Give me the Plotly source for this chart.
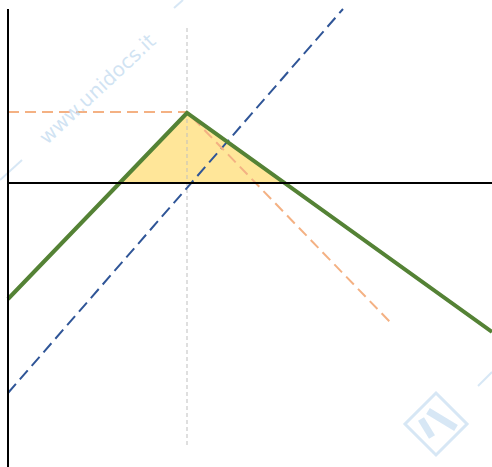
import plotly.graph_objects as go

# Data (chart units: x = underlying, y = payoff)
strike = 179
green_x = [0, 179, 484]
green_y = [-116, 70, -149]
blue_x = [0, 335]
blue_y = [-210, 174]
orange_x = [0, 179, 383]
orange_y = [71, 71, -140]
profit_x = [111.6, 179, 276]
profit_y = [0, 70, 0]

W, H = 492, 467

fig = go.Figure()

fig.add_trace(go.Scatter(x=profit_x, y=profit_y, fill="toself", mode="lines",
                         fillcolor="#FFE699", line=dict(color="black", width=1),
                         hoverinfo="skip", showlegend=False))
fig.add_trace(go.Scatter(x=[strike, strike], y=[155, -263], mode="lines",
                         line=dict(color="#BFBFBF", width=1, dash="4px,3px"),
                         showlegend=False))
fig.add_trace(go.Scatter(x=blue_x, y=blue_y, mode="lines",
                         line=dict(color="#2F5597", width=2, dash="12px,6px"),
                         showlegend=False))
fig.add_trace(go.Scatter(x=orange_x, y=orange_y, mode="lines",
                         line=dict(color="#F4B183", width=2, dash="11px,6px"),
                         showlegend=False))
fig.add_trace(go.Scatter(x=green_x, y=green_y, mode="lines",
                         line=dict(color="#548235", width=4),
                         showlegend=False))

shapes = [
    dict(type="line", xref="x", yref="y", x0=0, y0=174, x1=0, y1=-290,
         line=dict(color="black", width=2)),
    dict(type="line", xref="x", yref="y", x0=0, y0=0, x1=490, y1=0,
         line=dict(color="black", width=2)),
]

WM = "rgba(189,215,238,0.6)"
def px(x):
    return x / W
def py(y):
    return 1 - y / H
def seg(x0, y0, x1, y1, w=2):
    return dict(type="line", xref="paper", yref="paper",
                x0=px(x0), y0=py(y0), x1=px(x1), y1=py(y1),
                line=dict(color=WM, width=w), layer="below")
shapes += [seg(174, 8, 183, 0), seg(0, 180, 22, 160), seg(478, 386, 492, 372)]
# logo: rotated square with two strokes
cx, cy, r = 436, 424, 31
path = "M {} {} L {} {} L {} {} L {} {} Z".format(
    px(cx), py(cy - r), px(cx + r), py(cy), px(cx), py(cy + r), px(cx - r), py(cy))
shapes.append(dict(type="path", xref="paper", yref="paper", path=path,
                   line=dict(color=WM, width=3), layer="below"))
shapes.append(seg(421, 419, 432, 437, 7))
shapes.append(seg(428, 411, 456, 428, 7))

fig.update_layout(
    width=W, height=H,
    margin=dict(l=0, r=0, t=0, b=0),
    plot_bgcolor="white", paper_bgcolor="white",
    xaxis=dict(range=[-8, 484], visible=False, fixedrange=True),
    yaxis=dict(range=[-284, 183], visible=False, fixedrange=True),
    shapes=shapes,
    annotations=[dict(text="www.unidocs.it", x=px(97), y=py(89),
                      xanchor="center", yanchor="middle",
                      xref="paper", yref="paper", showarrow=False,
                      textangle=-43, font=dict(family="DejaVu Sans", size=20,
                                               color="rgba(189,215,238,0.7)"))],
)

fig.write_html(
    "out.html",
    config={"displayModeBar": False},
    post_script="document.body.style.margin='0';document.body.style.overflow='hidden';",
)
